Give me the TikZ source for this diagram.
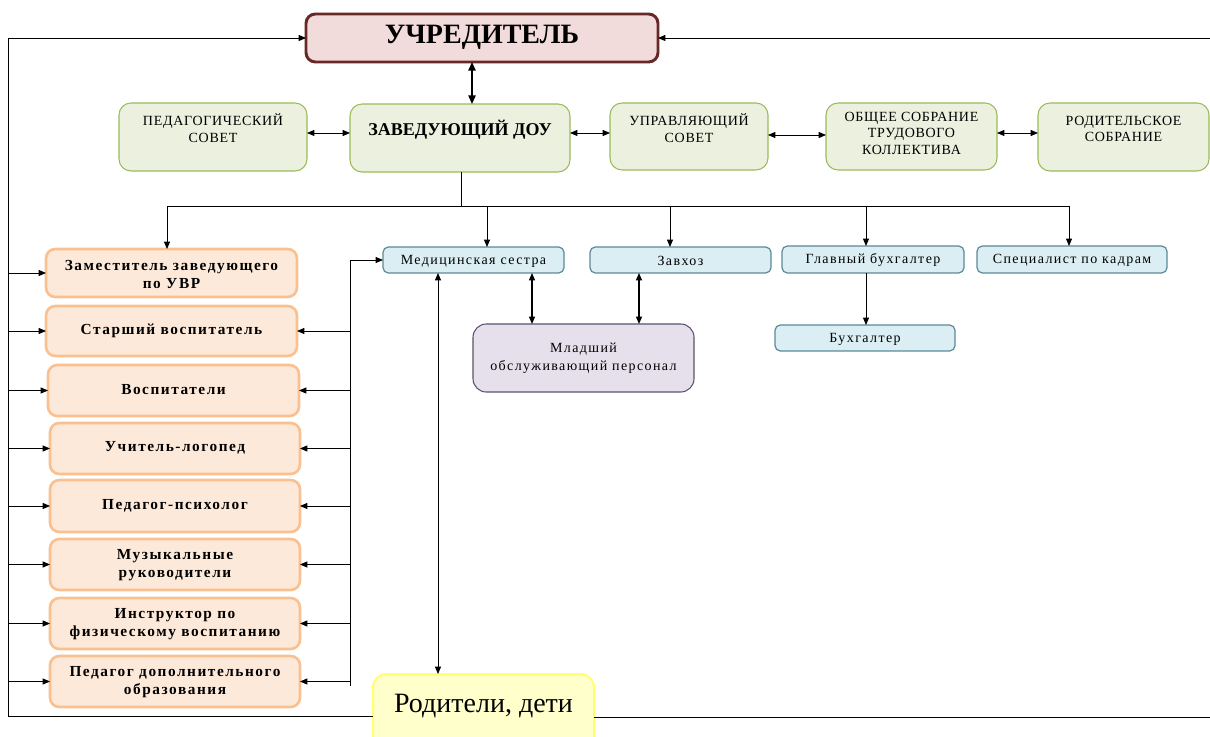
\documentclass[tikz,border=0pt]{standalone}
\usepackage{fontspec}
\setmainfont{Liberation Serif}
\newfontfamily\spacedfont[LetterSpace=10]{Liberation Serif}
\newfontfamily\lightspaced[LetterSpace=5]{Liberation Serif}
\usetikzlibrary{arrows.meta}
\definecolor{uchrF}{HTML}{F2DCDB}
\definecolor{uchrB}{HTML}{682828}
\definecolor{gF}{HTML}{EBF1DE}
\definecolor{gB}{HTML}{9BBB59}
\definecolor{oF}{HTML}{FDE9D9}
\definecolor{oB}{HTML}{FAC090}
\definecolor{bF}{HTML}{DBEEF4}
\definecolor{bB}{HTML}{5A8A98}
\definecolor{pF}{HTML}{E5E0EC}
\definecolor{pB}{HTML}{5F5070}
\definecolor{yF}{HTML}{FFFFCC}
\definecolor{yB}{HTML}{FFFF70}
\newcommand\mkbox[8]{%
  \node[#6, minimum width={(#4-#2)*0.75pt}, minimum height={(#5-#3)*0.75pt}] (#1) at ({(#2+#4)/2},{(#3+#5)/2}) {};
  \node[#6 text] (#1t) at ({(#2+#4)/2},#7) {#8};}
\begin{document}
\begin{tikzpicture}[x=0.75pt,y=-0.75pt,
  shp/.style={draw, inner sep=0pt, outer sep=0pt},
  txt/.style={align=center, inner sep=0pt},
  uchr/.style={shp, draw=uchrB, fill=uchrF, line width=2.2pt, rounded corners=7pt},
  uchr text/.style={txt, font=\fontsize{21}{25}\selectfont\bfseries},
  gbox/.style={shp, draw=gB, fill=gF, line width=0.8pt, rounded corners=9pt},
  gbox text/.style={txt, font=\fontsize{10.5}{12.4}\selectfont\lightspaced},
  zbox text/.style={txt, font=\fontsize{13.5}{16}\selectfont\bfseries},
  obox/.style={shp, draw=oB, fill=oF, line width=2pt, rounded corners=7pt},
  obox text/.style={txt, font=\fontsize{11.5}{13.5}\selectfont\spacedfont\bfseries},
  bbox/.style={shp, draw=bB, fill=bF, line width=0.9pt, rounded corners=4pt},
  bbox text/.style={txt, font=\fontsize{10.5}{13.5}\selectfont\spacedfont},
  pbox/.style={shp, draw=pB, fill=pF, line width=0.8pt, rounded corners=10pt},
  pbox text/.style={txt, font=\fontsize{10.5}{13.5}\selectfont\spacedfont},
  ybox/.style={shp, draw=yB, fill=yF, line width=1.5pt, rounded corners=10pt},
  ybox text/.style={txt, font=\fontsize{21}{25}\selectfont},
  ln/.style={line width=0.6pt},
  arr/.style={ln, -{Triangle[length=5.5pt,width=4.5pt]}},
  darr/.style={ln, {Triangle[length=5.5pt,width=4.5pt]}-{Triangle[length=5.5pt,width=4.5pt]}},
  tdarr/.style={line width=1.2pt, {Triangle[length=6.5pt,width=5.5pt]}-{Triangle[length=6.5pt,width=5.5pt]}}
]
\useasboundingbox (0,0) rectangle (1210,737);
% top
\mkbox{uchr}{306}{14}{658}{62}{uchr}{37}{УЧРЕДИТЕЛЬ}
\mkbox{ped}{119}{103}{307}{171}{gbox}{128}{ПЕДАГОГИЧЕСКИЙ\\СОВЕТ}
\mkbox{zav}{350}{104}{570}{172}{gbox}{130}{}
\node[zbox text] (zavt2) at (460,130) {ЗАВЕДУЮЩИЙ ДОУ};
\mkbox{upr}{610}{103}{768}{170}{gbox}{128}{УПРАВЛЯЮЩИЙ\\СОВЕТ}
\mkbox{obs}{826}{103}{997}{170}{gbox}{133}{ОБЩЕЕ СОБРАНИЕ\\ТРУДОВОГО\\КОЛЛЕКТИВА}
\mkbox{rsob}{1038}{103}{1209}{171}{gbox}{129}{РОДИТЕЛЬСКОЕ\\СОБРАНИЕ}
% orange
\mkbox{zam}{46}{249}{297}{297}{obox}{275}{Заместитель заведующего\\по УВР}
\mkbox{star}{46}{306}{297}{356}{obox}{331}{Старший воспитатель}
\mkbox{vosp}{48}{365}{299}{416}{obox}{390}{Воспитатели}
\mkbox{log}{50}{423}{300}{474}{obox}{448}{Учитель-логопед}
\mkbox{psy}{50}{480}{300}{532}{obox}{506}{Педагог-психолог}
\mkbox{muz}{50}{539}{300}{590}{obox}{565}{Музыкальные\\руководители}
\mkbox{ins}{50}{598}{300}{649}{obox}{624}{Инструктор по\\физическому воспитанию}
\mkbox{dop}{50}{656}{300}{707}{obox}{682}{Педагог дополнительного\\образования}
% blue
\mkbox{med}{383}{247}{564}{273}{bbox}{261}{Медицинская сестра}
\mkbox{zavh}{590}{247}{771}{273}{bbox}{261}{Завхоз}
\mkbox{glav}{782}{246}{964}{273}{bbox}{260}{Главный бухгалтер}
\mkbox{kadr}{977}{246}{1167}{273}{bbox}{260}{Специалист по кадрам}
\mkbox{buh}{775}{325}{955}{351}{bbox}{339}{Бухгалтер}
% purple, yellow
\mkbox{mlad}{473}{324}{694}{392}{pbox}{358}{Младший\\обслуживающий персонал}
\mkbox{rod}{373}{674}{594}{760}{ybox}{706}{Родители, дети}
% outer loops
\coordinate (lb) at (8,716);
\coordinate (rb) at (1211,717);
\draw[arr] (rod.west |- lb) -- (lb) |- (uchr.west);
\draw[arr] (rod.east |- rb) -- (rb) |- (uchr.east);
\foreach \n in {zam,star,vosp,log,psy,muz,ins,dop}
  \draw[arr] (lb |- \n.west) -- (\n.west);
% middle bus
\coordinate (mb) at (350,686);
\draw[arr] (mb) |- (med.west);
\foreach \n in {star,vosp,log,psy,muz,ins,dop}
  \draw[arr] (mb |- \n.east) -- (\n.east);
% top links
\draw[tdarr] (uchr.south -| 472,0) -- (zav.north -| 472,0);
\draw[darr] (ped.east |- 0,133) -- (zav.west |- 0,133);
\draw[darr] (zav.east |- 0,133) -- (upr.west |- 0,133);
\draw[darr] (upr.east |- 0,135) -- (obs.west |- 0,135);
\draw[darr] (obs.east |- 0,133) -- (rsob.west |- 0,133);
% tree
\draw[ln] (zav.south -| 461,0) -- (461,206);
\draw[ln] (167,206) -- (1069,206);
\draw[arr] (167,206) -- (zam.north -| 167,0);
\draw[arr] (487,206) -- (med.north -| 487,0);
\draw[arr] (670,206) -- (zavh.north -| 670,0);
\draw[arr] (866,206) -- (glav.north -| 866,0);
\draw[arr] (1069,206) -- (kadr.north -| 1069,0);
% lower links
\draw[darr, line width=0.9pt] (med.south -| 532,0) -- (mlad.north -| 532,0);
\draw[darr, line width=0.9pt] (zavh.south -| 639,0) -- (mlad.north -| 639,0);
\draw[arr] (glav.south -| 866,0) -- (buh.north -| 866,0);
\draw[darr] (med.south -| 438,0) -- (rod.north -| 438,0);
\end{tikzpicture}
\end{document}
